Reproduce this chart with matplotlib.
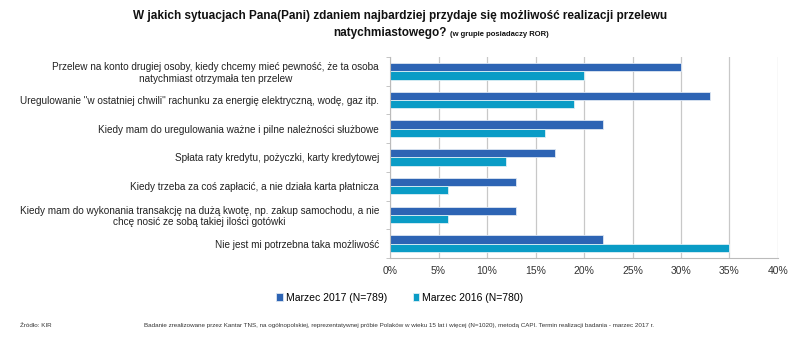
import matplotlib
matplotlib.use("Agg")
import matplotlib.pyplot as plt
import numpy as np

categories = [
    "Przelew na konto drugiej osoby, kiedy chcemy mieć pewność, że ta osoba\nnatychmiast otrzymała ten przelew",
    "Uregulowanie \"w ostatniej chwili\" rachunku za energię elektryczną, wodę, gaz itp.",
    "Kiedy mam do uregulowania ważne i pilne należności służbowe",
    "Spłata raty kredytu, pożyczki, karty kredytowej",
    "Kiedy trzeba za coś zapłacić, a nie działa karta płatnicza",
    "Kiedy mam do wykonania transakcję na dużą kwotę, np. zakup samochodu, a nie\nchcę nosić ze sobą takiej ilości gotówki",
    "Nie jest mi potrzebna taka możliwość",
]
marzec_2017 = [30, 33, 22, 17, 13, 13, 22]
marzec_2016 = [20, 19, 16, 12, 6, 6, 35]
series_labels = ["Marzec 2017 (N=789)", "Marzec 2016 (N=780)"]
xticks = [0, 5, 10, 15, 20, 25, 30, 35, 40]

c2017 = "#2D64B4"
c2016 = "#0A9CC6"

plt.rcParams["font.family"] = ["Liberation Sans", "DejaVu Sans"]

fig = plt.figure(figsize=(8, 3.51), dpi=100)
ax = fig.add_axes([0.4875, 0.265, 0.485, 0.573])

y = np.arange(len(categories))
h = 0.29
ax.barh(y - h / 2, marzec_2017, height=h, color=c2017, edgecolor="#DDE6F2", linewidth=0.6,
        label=series_labels[0])
ax.barh(y + h / 2, marzec_2016, height=h, color=c2016, edgecolor="#DDEFF5", linewidth=0.6,
        label=series_labels[1])

ax.set_ylim(len(categories) - 0.5, -0.5)
ax.set_xlim(0, 40)
ax.set_xticks(xticks)
ax.set_xticklabels([f"{v}%" for v in xticks], fontsize=7.5, color="#333333")
ax.grid(axis="x", color="#C8C8C8", linewidth=0.9)
ax.set_axisbelow(True)
ax.tick_params(axis="x", length=0, pad=6)

# category labels on the left, tick marks at band boundaries
ax.set_yticks(y)
ax.set_yticklabels(categories, fontsize=7.2, color="#222222", multialignment="center")
ax.tick_params(axis="y", length=0, pad=8)
ax.set_yticks(np.arange(-0.5, len(categories), 1), minor=True)
ax.tick_params(axis="y", which="minor", length=3, color="#BBBBBB")

for s in ["top", "right"]:
    ax.spines[s].set_visible(False)
ax.spines["left"].set_color("#BBBBBB")
ax.spines["bottom"].set_color("#BBBBBB")

fig.text(0.5, 0.955, "W jakich sytuacjach Pana(Pani) zdaniem najbardziej przydaje się możliwość realizacji przelewu",
         ha="center", va="center", fontsize=8.5, fontweight="bold", color="#111111")
fig.text(0.558, 0.905, "natychmiastowego?", ha="right", va="center", fontsize=8.5,
         fontweight="bold", color="#111111")
fig.text(0.562, 0.903, "(w grupie posiadaczy ROR)", ha="left", va="center", fontsize=5.5,
         fontweight="bold", color="#111111")

fig.legend(loc="center", bbox_to_anchor=(0.5, 0.152), ncol=2, frameon=False, fontsize=7.5,
           handlelength=0.6, handleheight=0.8, handletextpad=0.3, columnspacing=2.5)

fig.text(0.025, 0.072, "Źródło: KIR", fontsize=4.5, color="#333333", va="center")
fig.text(0.18, 0.072, "Badanie zrealizowane przez Kantar TNS, na ogólnopolskiej, reprezentatywnej próbie Polaków w wieku 15 lat i więcej (N=1020), "
         "metodą CAPI. Termin realizacji badania - marzec 2017 r.", fontsize=4.5, color="#333333", va="center")

fig.savefig("out.png", dpi=100)
